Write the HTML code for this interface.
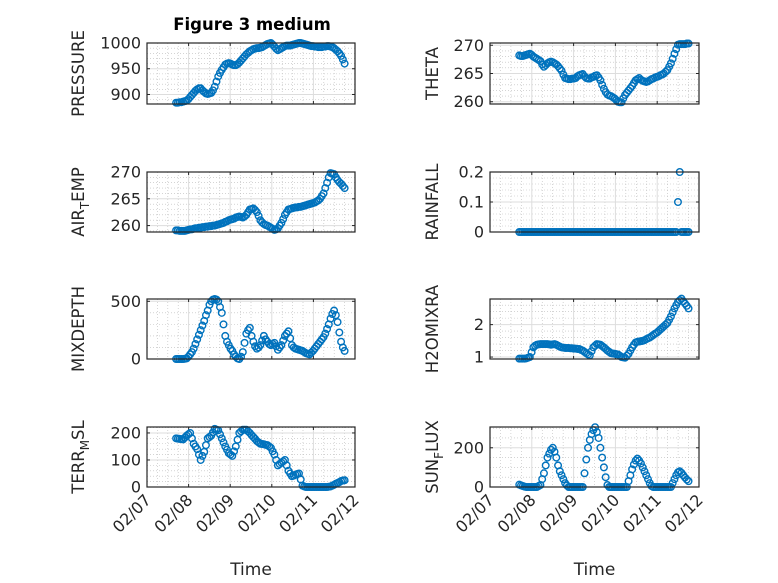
<!DOCTYPE html>
<html><head><meta charset="utf-8">
<style>
html,body{margin:0;padding:0;background:#fff;}
svg{display:block;font-family:"DejaVu Sans","Liberation Sans",sans-serif;}
</style></head>
<body>
<svg id="fig" width="778" height="583" viewBox="0 0 778 583" xmlns="http://www.w3.org/2000/svg">
<rect width="778" height="583" fill="#fff"/>
<text x="252" y="30" text-anchor="middle" font-size="16.5" font-weight="bold" fill="#000">Figure 3 medium</text>
</svg>
<script>
const dateLabels = ["02/07","02/08","02/09","02/10","02/11","02/12"];
const tStart = 0.70, tEnd = 4.75;

const pressure = [884,884,885,885,886,887,888,891,895,899,903,907,910,912,912,908,905,902,901,902,903,908,915,925,935,942,948,953,958,960,961,960,958,957,957,959,962,966,970,974,978,981,984,986,988,989,990,990,991,992,994,996,998,999,1000,997,993,989,986,988,990,992,994,995,995,995,996,997,998,999,1000,1000,999,998,997,996,995,994,994,993,993,992,992,992,993,993,994,994,993,992,990,987,984,980,975,968,960];
const theta = [268.2,268.1,268.1,268.2,268.3,268.4,268.5,268.3,268,267.8,267.6,267.4,267.2,266.6,266.2,266.5,266.8,267,267.1,267,266.8,266.6,266.3,265.9,265.5,264.8,264.2,264.1,264,264,264.1,264.1,264.2,264.5,264.7,264.8,264.9,264.5,264.2,264.1,264.1,264.3,264.4,264.6,264.7,264.3,263.8,263,262.3,261.7,261.3,261.1,261,260.8,260.6,260.3,260,259.9,259.9,260.6,261.2,261.6,262,262.4,262.8,263.3,263.8,264,264.2,263.9,263.7,263.6,263.5,263.6,263.8,264,264.1,264.3,264.4,264.5,264.7,264.8,265,265.3,265.6,266.2,266.8,267.6,268.5,269.3,270.1,270.2,270.2,270.2,270.2,270.3,270.3];
const airTemp = [259.1,259.1,259,259,259,259,259.1,259.2,259.3,259.3,259.4,259.5,259.5,259.6,259.6,259.7,259.7,259.8,259.8,259.9,259.9,260,260,260.1,260.2,260.3,260.4,260.5,260.7,260.8,261,261.1,261.2,261.3,261.5,261.6,261.7,261.6,261.5,261.7,262,262.5,263,263.1,263.2,262.9,262.5,261.8,261,260.6,260.3,260.1,260,259.8,259.6,259.4,259.2,259.3,259.5,260,260.5,261.2,262,262.5,263,263.1,263.2,263.3,263.4,263.4,263.5,263.5,263.6,263.7,263.8,263.9,264,264.1,264.2,264.3,264.5,264.7,265,265.5,266,267,268,269,269.8,269.7,269.6,269,268.5,268.1,267.8,267.4,267];
const rainfall = [0,0,0,0,0,0,0,0,0,0,0,0,0,0,0,0,0,0,0,0,0,0,0,0,0,0,0,0,0,0,0,0,0,0,0,0,0,0,0,0,0,0,0,0,0,0,0,0,0,0,0,0,0,0,0,0,0,0,0,0,0,0,0,0,0,0,0,0,0,0,0,0,0,0,0,0,0,0,0,0,0,0,0,0,0,0,0,0,0,0,0.1,0.2,0,0,0,0,0];
const mixDepth = [0,0,0,0,0,2,5,20,40,60,90,130,170,210,250,290,330,380,420,470,500,515,520,515,500,450,400,300,200,150,120,90,70,40,20,5,0,20,60,140,220,250,270,200,150,110,90,100,120,160,200,170,150,130,120,130,140,110,80,100,120,160,200,220,240,180,120,100,90,85,80,75,70,60,50,45,40,55,70,90,110,130,150,170,190,220,260,300,350,390,420,380,320,230,150,100,70];
const h2oMix = [0.95,0.95,0.95,0.95,0.96,0.98,1.0,1.15,1.3,1.35,1.38,1.39,1.4,1.4,1.4,1.4,1.4,1.39,1.38,1.39,1.4,1.38,1.35,1.32,1.3,1.29,1.28,1.28,1.28,1.27,1.27,1.26,1.26,1.25,1.25,1.22,1.2,1.16,1.12,1.08,1.05,1.18,1.3,1.35,1.4,1.39,1.38,1.34,1.3,1.25,1.2,1.16,1.12,1.11,1.1,1.09,1.08,1.04,1.0,0.99,0.98,1.04,1.1,1.2,1.3,1.38,1.45,1.47,1.48,1.49,1.5,1.52,1.55,1.58,1.6,1.64,1.68,1.72,1.75,1.8,1.85,1.9,1.95,2.0,2.05,2.15,2.25,2.38,2.5,2.6,2.7,2.75,2.8,2.72,2.65,2.58,2.5];
const terrMsl = [180,179,178,177,176,183,190,195,200,180,160,150,140,120,100,115,130,155,180,185,190,202,215,212,210,195,180,165,150,138,125,120,115,132,150,175,200,206,212,212,212,206,200,192,185,178,170,165,160,159,158,156,155,150,145,132,120,100,80,85,90,95,100,80,60,50,40,42,45,48,50,28,5,2,0,0,0,0,0,0,0,0,0,0,0,0,0,1,2,5,8,12,15,18,22,24,25];
const sunFlux = [12,8,5,2,0,0,0,0,0,0,0,5,10,40,70,110,150,170,190,200,180,150,110,80,60,40,20,8,0,0,0,0,0,0,0,0,0,70,140,200,240,270,290,305,280,250,200,150,100,50,10,0,0,0,0,0,0,0,0,0,0,0,30,60,90,115,135,145,135,120,100,80,60,40,20,5,0,0,0,0,0,0,0,0,0,0,0,20,40,60,75,80,72,60,48,38,30];

const NS = "http://www.w3.org/2000/svg";
const svg = document.getElementById("fig");
function mk(tag, attrs, parent) {
  const e = document.createElementNS(NS, tag);
  for (const k in attrs) e.setAttribute(k, attrs[k]);
  (parent || svg).appendChild(e);
  return e;
}
const L = [147, 355], R = [490, 699];
const rows = [[43,104],[172,232],[299,359],[427,487]];
const panels = [
  {key:"pressure", data:pressure, xs:L, ys:rows[0], ylim:[881.5,1000], ticks:[900,950,1000], minor:10, fmt:v=>String(v), label:["PRESSURE"], lx:84},
  {key:"theta", data:theta, xs:R, ys:rows[0], ylim:[259.6,270.4], ticks:[260,265,270], minor:1, fmt:v=>String(v), label:["THETA"], lx:438},
  {key:"air-temp", data:airTemp, xs:L, ys:rows[1], ylim:[258.8,270], ticks:[260,265,270], minor:1, fmt:v=>String(v), label:["AIR","T","EMP"], lx:84},
  {key:"rainfall", data:rainfall, xs:R, ys:rows[1], ylim:[0,0.2], ticks:[0,0.1,0.2], minor:0.02, fmt:v=>v===0?"0":v.toFixed(1), label:["RAINFALL"], lx:438},
  {key:"mixdepth", data:mixDepth, xs:L, ys:rows[2], ylim:[0,520], ticks:[0,500], minor:100, fmt:v=>String(v), label:["MIXDEPTH"], lx:84},
  {key:"h2omixra", data:h2oMix, xs:R, ys:rows[2], ylim:[0.94,2.79], ticks:[1,2], minor:0.2, fmt:v=>String(v), label:["H2OMIXRA"], lx:438},
  {key:"terr-msl", data:terrMsl, xs:L, ys:rows[3], ylim:[0,222], ticks:[0,100,200], minor:20, fmt:v=>String(v), label:["TERR","M","SL"], lx:84, bottom:true},
  {key:"sun-flux", data:sunFlux, xs:R, ys:rows[3], ylim:[0,306], ticks:[0,200], minor:50, fmt:v=>String(v), label:["SUN","F","LUX"], lx:438, bottom:true}
];
const ax = "#262626";
panels.forEach(p => {
  const [x0,x1] = p.xs, [y0,y1] = p.ys;
  const xS = t => x0 + (t/5)*(x1-x0);
  const yS = v => y1 - (v-p.ylim[0])/(p.ylim[1]-p.ylim[0])*(y1-y0);
  const n = p.data.length;
  const tOf = i => tStart + i*(tEnd-tStart)/(n-1);
  const g = mk("g", {});
  
  
  mk("rect", {x:x0,y:y0,width:x1-x0,height:y1-y0,fill:"#fff"}, g);
  for (let d = 0; d < 5; d++) for (let k = 1; k < 4; k++) {
    const x = xS(d + k/4);
    mk("line", {x1:x,x2:x,y1:y0,y2:y1,stroke:"#bbb","stroke-width":0.6,"stroke-dasharray":"1,2"}, g);
  }
  const m0 = Math.ceil(p.ylim[0]/p.minor);
  for (let k = m0; k*p.minor <= p.ylim[1]+1e-9; k++) {
    const v = k*p.minor;
    if (p.ticks.some(t => Math.abs(t-v) < 1e-9)) continue;
    const y = yS(v);
    mk("line", {x1:x0,x2:x1,y1:y,y2:y,stroke:"#bbb","stroke-width":0.6,"stroke-dasharray":"1,2"}, g);
  }
  for (let d = 1; d < 5; d++) {
    const x = xS(d);
    mk("line", {x1:x,x2:x,y1:y0,y2:y1,stroke:"#ddd","stroke-width":1}, g);
  }
  p.ticks.forEach(v => {
    const y = yS(v);
    mk("line", {x1:x0,x2:x1,y1:y,y2:y,stroke:"#ddd","stroke-width":1}, g);
    mk("line", {x1:x0,x2:x0+3,y1:y,y2:y,stroke:ax,"stroke-width":1}, g);
    mk("line", {x1:x1,x2:x1-3,y1:y,y2:y,stroke:ax,"stroke-width":1}, g);
    const t = mk("text", {x:x0-6,y:y+5.5,"text-anchor":"end","font-size":16,fill:ax});
    
    
    t.textContent = p.fmt(v);
  });
  for (let d = 0; d <= 5; d++) {
    const x = xS(d);
    mk("line", {x1:x,x2:x,y1:y1,y2:y1-3,stroke:ax,"stroke-width":1}, g);
    mk("line", {x1:x,x2:x,y1:y0,y2:y0+3,stroke:ax,"stroke-width":1}, g);
  }
  p.data.forEach((v, i) => {
    const c = mk("circle", {cx:xS(tOf(i)).toFixed(2), cy:yS(v).toFixed(2), r:3.3, fill:"none", stroke:"#0072BD","stroke-width":1.4}, g);
    
    
  });
  mk("rect", {x:x0,y:y0,width:x1-x0,height:y1-y0,fill:"none",stroke:ax,"stroke-width":1.2}, g);
  const cy = (y0+y1)/2;
  const lab = mk("text", {x:0,y:0,"text-anchor":"middle","font-size":16.5,fill:ax,transform:`translate(${p.lx},${cy}) rotate(-90)`});
  
  
  if (p.label.length === 1) lab.textContent = p.label[0];
  else {
    const a = mk("tspan", {}, lab); a.textContent = p.label[0];
    const b = mk("tspan", {dy:5,"font-size":12}, lab); b.textContent = p.label[1];
    const c = mk("tspan", {dy:-5}, lab); c.textContent = p.label[2];
  }
  if (p.bottom) {
    dateLabels.forEach((s, d) => {
      const x = xS(d), y = y1 + 8;
      const t = mk("text", {x:0,y:0,"text-anchor":"end","font-size":16,fill:ax,transform:`translate(${x+5},${y+6}) rotate(-45)`});
      
      
      t.textContent = s;
    });
    const xt = mk("text", {x:(x0+x1)/2,y:575,"text-anchor":"middle","font-size":17,fill:ax});
    
    
    xt.textContent = "Time";
  }
});
</script>
</body></html>
